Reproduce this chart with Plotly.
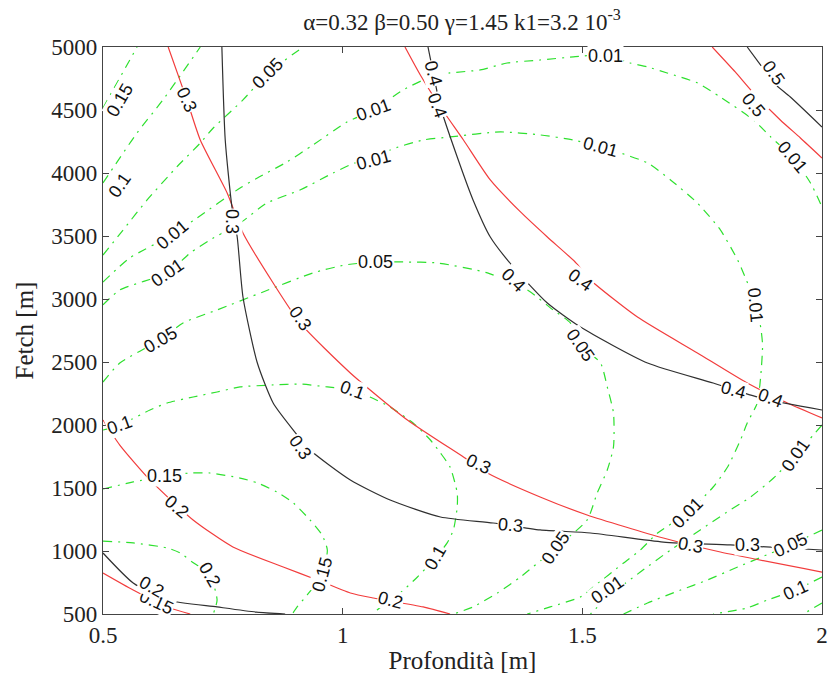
import plotly.graph_objects as go

# ---- contour lines (Profondità [m], Fetch [m]) ----
# red family
red_03_x = [0.636, 0.675, 0.703, 0.759, 0.792, 0.855, 0.911, 1.016, 1.135, 1.252, 1.302, 1.412, 1.510, 1.669, 1.788, 2.0]
red_03_y = [5000, 4580, 4262, 3841, 3524, 3127, 2810, 2413, 2040, 1746, 1619, 1429, 1286, 1103, 992, 833]
red_02_x = [0.5, 0.535, 0.598, 0.688, 0.771, 0.876, 0.947, 1.016, 1.064, 1.168, 1.224]
red_02_y = [2040, 1841, 1564, 1246, 1032, 873, 770, 667, 627, 556, 500]
red_015_x = [0.5, 0.563, 0.634, 0.682]
red_015_y = [825, 690, 556, 500]
red_04_x = [1.130, 1.162, 1.204, 1.252, 1.308, 1.371, 1.427, 1.485, 1.517, 1.615, 1.740, 1.844, 1.928, 2.0]
red_04_y = [5000, 4778, 4524, 4262, 3945, 3691, 3492, 3294, 3151, 2857, 2572, 2333, 2175, 2056]
red_05_x = [1.771, 1.819, 1.857, 1.913, 1.955, 2.0]
red_05_y = [5000, 4802, 4635, 4421, 4278, 4119]

# black family
blk_03_x = [0.748, 0.755, 0.769, 0.780, 0.792, 0.822, 0.855, 0.897, 0.932, 1.016, 1.099, 1.204, 1.314, 1.412, 1.517, 1.669, 1.809, 2.0]
blk_03_y = [5000, 4262, 3730, 3492, 3016, 2492, 2175, 1960, 1802, 1564, 1405, 1270, 1222, 1167, 1143, 1071, 1048, 1008]
blk_04_x = [1.178, 1.189, 1.204, 1.239, 1.272, 1.308, 1.356, 1.427, 1.496, 1.636, 1.773, 1.872, 2.0]
blk_04_y = [5000, 4794, 4524, 4127, 3786, 3492, 3254, 2968, 2778, 2492, 2333, 2214, 2119]
blk_05_x = [1.844, 1.872, 1.899, 1.934, 2.0]
blk_05_y = [5000, 4857, 4715, 4603, 4365]
blk_02_x = [0.5, 0.563, 0.634, 0.738, 0.82, 0.88]
blk_02_y = [984, 746, 611, 556, 515, 500]

# green (dash-dot) family
grn_a_x = [0.5, 0.571]
grn_a_y = [4516, 5000]
grn_b_x = [0.5, 0.571, 0.625, 0.703]
grn_b_y = [3921, 4318, 4580, 5000]
grn_c_x = [0.5, 0.542, 0.592, 0.654, 0.703, 0.730, 0.792, 0.844, 0.918]
grn_c_y = [3349, 3548, 3786, 4048, 4238, 4357, 4580, 4794, 5000]
grn_d_x = [0.5, 0.556, 0.644, 0.696, 0.786, 0.822, 0.884, 0.938, 1.009, 1.064, 1.126, 1.183, 1.224, 1.287,
           1.343, 1.412, 1.481, 1.548, 1.600, 1.636, 1.677, 1.740, 1.788, 1.857, 1.893, 1.938, 1.976, 2.0]
grn_d_y = [3135, 3326, 3508, 3643, 3881, 3960, 4088, 4222, 4405, 4500, 4659, 4762, 4794, 4818,
           4873, 4897, 4921, 4937, 4873, 4842, 4794, 4715, 4603, 4421, 4286, 4127, 3921, 3730]
grn_e_x = [0.5, 0.535, 0.634, 0.682, 0.723, 0.786, 0.842, 0.911, 0.980, 1.026, 1.064, 1.099, 1.168, 1.224,
           1.329, 1.412, 1.481, 1.538, 1.573, 1.636, 1.684, 1.740, 1.788, 1.824, 1.836, 1.861, 1.872, 1.876,
           1.872, 1.865, 1.844, 1.830, 1.803, 1.773, 1.719, 1.657, 1.621, 1.586, 1.523, 1.496, 1.433, 1.385]
grn_e_y = [2953, 3072, 3207, 3365, 3468, 3603, 3762, 3865, 4000, 4080, 4103, 4183, 4262, 4286,
           4326, 4302, 4262, 4207, 4167, 4080, 3945, 3762, 3548, 3310, 3207, 2968, 2778, 2635,
           2381, 2175, 2016, 1881, 1667, 1508, 1302, 1143, 1008, 905, 714, 635, 556, 500]
grn_f_x = [0.5, 0.535, 0.619, 0.667, 0.738, 0.834, 0.938, 1.005, 1.068, 1.126, 1.197, 1.302, 1.385, 1.439,
           1.475, 1.496, 1.538, 1.552, 1.565, 1.565, 1.552, 1.531, 1.510, 1.444, 1.371, 1.323, 1.272, 1.231]
grn_f_y = [2341, 2492, 2675, 2810, 2913, 3056, 3207, 3270, 3294, 3294, 3286, 3207, 3072, 2913,
           2810, 2635, 2492, 2302, 2095, 1826, 1643, 1460, 1246, 1024, 794, 667, 556, 500]
grn_g_x = [0.5, 0.535, 0.598, 0.634, 0.688, 0.738, 0.786, 0.855, 0.911, 0.968, 1.020, 1.057, 1.099, 1.147,
           1.183, 1.204, 1.224, 1.239, 1.239, 1.231, 1.218, 1.193, 1.156, 1.120, 1.072, 1.064]
grn_g_y = [1960, 2000, 2119, 2175, 2222, 2262, 2302, 2318, 2325, 2302, 2278, 2222, 2143, 2016,
           1881, 1778, 1667, 1460, 1349, 1167, 1064, 944, 794, 667, 532, 500]
grn_h_x = [0.5, 0.563, 0.629, 0.682, 0.723, 0.786, 0.822, 0.863, 0.897, 0.932, 0.957, 0.968, 0.957, 0.926, 0.905, 0.895]
grn_h_y = [1492, 1548, 1595, 1619, 1619, 1579, 1540, 1468, 1381, 1246, 1127, 1008, 810, 651, 556, 500]
grn_i_x = [0.5, 0.563, 0.634, 0.661, 0.686, 0.723, 0.738, 0.730]
grn_i_y = [1079, 1064, 1024, 984, 913, 810, 611, 500]
grn_j_x = [2.0, 1.945, 1.899, 1.851, 1.799, 1.746, 1.684, 1.621, 1.558, 1.517]
grn_j_y = [2000, 1762, 1579, 1429, 1302, 1167, 1008, 833, 651, 500]
grn_k_x = [2.0, 1.934, 1.824, 1.761, 1.705, 1.636, 1.586]
grn_k_y = [1167, 1048, 873, 770, 690, 587, 500]
grn_l_x = [2.0, 1.945, 1.886, 1.844, 1.773]
grn_l_y = [794, 690, 611, 548, 500]
grn_m_x = [2.0, 1.961]
grn_m_y = [587, 500]

# contour labels: text, depth, fetch, rotation
lbl_text = ["0.3", "0.3", "0.3", "0.3", "0.2", "0.2", "0.15", "0.4", "0.4", "0.4", "0.5",
            "0.3", "0.3", "0.3", "0.3", "0.4", "0.4", "0.4", "0.5", "0.2",
            "0.15", "0.1", "0.05", "0.01", "0.01", "0.01", "0.01", "0.01", "0.01", "0.01", "0.01",
            "0.05", "0.05", "0.05", "0.05", "0.1", "0.1", "0.1", "0.15", "0.15", "0.2",
            "0.01", "0.01", "0.01", "0.05", "0.1"]
lbl_x = [0.675, 0.911, 1.283, 1.725, 0.654, 1.099, 0.611, 1.496, 1.893, 1.197, 1.857,
         0.769, 0.911, 1.350, 1.844, 1.356, 1.815, 1.189, 1.899, 0.602,
         0.535, 0.535, 0.844, 0.644, 0.634, 1.064, 1.548, 1.938, 1.064, 1.538, 1.861,
         0.619, 1.068, 1.496, 1.444, 0.535, 1.020, 1.193, 0.629, 0.957, 0.723,
         1.719, 1.552, 1.945, 1.934, 1.945]
lbl_y = [4580, 2849, 1690, 1048, 1349, 611, 595, 3151, 2214, 4540, 4540,
         3611, 1826, 1206, 1048, 3151, 2278, 4794, 4794, 714,
         4580, 3905, 4794, 3508, 3207, 4500, 4930, 4127, 4103, 4207, 2953,
         2675, 3294, 2635, 1024, 2000, 2278, 944, 1595, 810, 810,
         1302, 690, 1762, 1048, 690]
lbl_rot = [65, 55, 25, 10, 40, 15, 25, 35, 20, 70, 50,
           90, 55, 5, 0, 45, 15, 75, 55, 30,
           -60, -55, -45, -40, -35, -20, 0, 50, -15, 15, 85,
           -30, 0, 55, -55, -20, 20, -60, 0, -75, 60,
           -45, -35, -55, -25, -25]

RED = "#f23c3c"
BLACK = "#303030"
GREEN = "#2ee02e"

fig = go.Figure()


def add_line(xs, ys, color, dash="solid"):
    fig.add_trace(go.Scatter(
        x=xs, y=ys, mode="lines", hoverinfo="skip", showlegend=False,
        line=dict(color=color, width=1.2, dash=dash, shape="spline", smoothing=0.6),
    ))


for xs, ys in [(grn_a_x, grn_a_y), (grn_b_x, grn_b_y), (grn_c_x, grn_c_y), (grn_d_x, grn_d_y),
               (grn_e_x, grn_e_y), (grn_f_x, grn_f_y), (grn_g_x, grn_g_y), (grn_h_x, grn_h_y),
               (grn_i_x, grn_i_y), (grn_j_x, grn_j_y), (grn_k_x, grn_k_y), (grn_l_x, grn_l_y),
               (grn_m_x, grn_m_y)]:
    add_line(xs, ys, GREEN, dash="9px,6px,2px,6px")

for xs, ys in [(red_03_x, red_03_y), (red_02_x, red_02_y), (red_015_x, red_015_y),
               (red_04_x, red_04_y), (red_05_x, red_05_y)]:
    add_line(xs, ys, RED)

for xs, ys in [(blk_03_x, blk_03_y), (blk_04_x, blk_04_y), (blk_05_x, blk_05_y), (blk_02_x, blk_02_y)]:
    add_line(xs, ys, BLACK)

for t, x, y, r in zip(lbl_text, lbl_x, lbl_y, lbl_rot):
    fig.add_annotation(
        x=x, y=y, text=t, textangle=r, showarrow=False,
        font=dict(family="Liberation Sans, Arial, sans-serif", size=18, color="#111"),
        bgcolor="white", borderpad=0,
    )

serif = "Liberation Serif"
tick_font = dict(family=serif, size=23, color="#222")
label_font = dict(family=serif, size=25, color="#222")

fig.update_layout(
    width=836, height=678,
    margin=dict(l=103, r=14, t=47, b=64),
    paper_bgcolor="white", plot_bgcolor="white",
    font=tick_font,
    title=dict(
        text="α=0.32 β=0.50 γ=1.45 k1=3.2 10<sup>-3</sup>",
        x=462 / 836, xanchor="center", xref="container",
        y=1 - 22 / 678, yanchor="middle", yref="container",
        font=dict(family=serif, size=23, color="#222"),
    ),
)

fig.update_xaxes(
    range=[0.5, 2], tickvals=[0.5, 1, 1.5, 2], ticktext=["0.5", "1", "1.5", "2"],
    ticks="inside", ticklen=6, tickcolor="#444", mirror="ticks", tickfont=tick_font,
    showline=True, linecolor="#444", linewidth=1.2, showgrid=False, zeroline=False,
    title=dict(text="Profondità [m]", standoff=4, font=label_font),
    automargin=False,
)
fig.update_yaxes(
    range=[500, 5000], tickvals=list(range(500, 5001, 500)),
    ticks="inside", ticklen=6, tickcolor="#444", mirror="ticks", tickfont=tick_font,
    showline=True, linecolor="#444", linewidth=1.2, showgrid=False, zeroline=False,
    title=dict(text="Fetch [m]", standoff=10, font=label_font),
    automargin=False,
)

fig.write_html("out.html")
